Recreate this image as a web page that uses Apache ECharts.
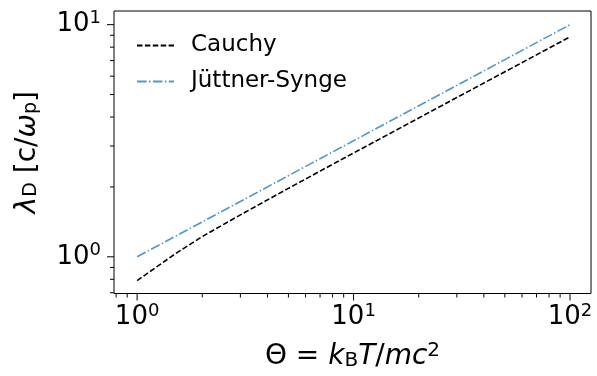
<!DOCTYPE html>
<html>
<head>
<meta charset="utf-8">
<script src="https://cdn.jsdelivr.net/npm/echarts@6/dist/echarts.min.js"></script>
<style>html,body{margin:0;padding:0;background:#fff}#c{width:597px;height:376px}</style>
</head>
<body>
<div id="c"></div>
<script>
var theta = [1, 1.5, 2, 3, 5, 7, 10, 20, 30, 50, 70, 100];
var cauchy = [0.79, 1.03, 1.223, 1.516, 1.972, 2.339, 2.799, 3.962, 4.853, 6.265, 7.413, 8.86];
var juttner = [1, 1.225, 1.414, 1.732, 2.236, 2.646, 3.162, 4.472, 5.477, 7.071, 8.367, 10];
var xMajor = [1, 10, 100];
var xMinor = [0.8, 0.9, 2, 3, 4, 5, 6, 7, 8, 9, 20, 30, 40, 50, 60, 70, 80, 90];
var yMajor = [1, 10];
var yMinor = [0.7, 0.8, 0.9, 2, 3, 4, 5, 6, 7, 8, 9];
var xMin = 0.782, xMax = 125, yMin = 0.695, yMax = 11.45;

var FONT = 'DejaVu Sans';
function pow10Label(v) {
  var l = Math.log10(v);
  if (Math.abs(l - Math.round(l)) > 1e-6) return '';
  return '{b|10}{s|' + Math.round(l) + '}';
}
var labelRich = {
  b: {fontSize: 26, fontFamily: FONT, color: '#000'},
  s: {fontSize: 18, fontFamily: FONT, color: '#000', padding: [0, 0, 12, 0]}
};

function tickSeries(vals, dim, len) {
  return {
    type: 'custom', silent: true, clip: false, z: 5,
    data: vals.map(function (v) { return [v]; }),
    renderItem: function (params, api) {
      var cs = params.coordSys;
      var v = api.value(0);
      var shape;
      if (dim === 'x') {
        var p = api.coord([v, yMin]);
        var yb = cs.y + cs.height;
        shape = {x1: p[0], y1: yb, x2: p[0], y2: yb + len};
      } else {
        var q = api.coord([xMin, v]);
        var xl = cs.x;
        shape = {x1: xl, y1: q[1], x2: xl - len, y2: q[1]};
      }
      return {type: 'line', shape: shape, style: {stroke: '#000', lineWidth: 1}};
    }
  };
}

var chart = echarts.init(document.getElementById('c'));
chart.setOption({
  animation: false,
  backgroundColor: '#fff',
  grid: {left: 114, right: 6, top: 11, bottom: 80, show: true, borderColor: '#000', borderWidth: 1, backgroundColor: 'transparent'},
  legend: {
    orient: 'vertical', left: 131, top: 29, itemWidth: 37, itemHeight: 14, itemGap: 13,
    itemStyle: {opacity: 0},
    textStyle: {fontSize: 23, fontFamily: FONT, color: '#000', padding: [0, 0, 0, 12]},
    data: ['Cauchy', 'Jüttner-Synge']
  },
  xAxis: {
    type: 'log', logBase: 10, min: xMin, max: xMax,
    axisLine: {show: false}, axisTick: {show: false}, splitLine: {show: false},
    axisLabel: {formatter: pow10Label, rich: labelRich, margin: 9},
    name: '{t|Θ = }{i|k}{sub|B}{i|T}{t|/}{i|mc}{sup|2}',
    nameLocation: 'middle', nameGap: 47,
    nameTextStyle: {
      rich: {
        t: {fontSize: 28, fontFamily: FONT, color: '#000'},
        i: {fontSize: 28, fontFamily: FONT, fontStyle: 'italic', color: '#000'},
        sub: {fontSize: 20, fontFamily: FONT, color: '#000', padding: [0, 0, -7, 0]},
        sup: {fontSize: 20, fontFamily: FONT, color: '#000', padding: [0, 0, 13, 0]}
      }
    }
  },
  yAxis: {
    type: 'log', logBase: 10, min: yMin, max: yMax,
    axisLine: {show: false}, axisTick: {show: false}, splitLine: {show: false},
    axisLabel: {formatter: pow10Label, rich: labelRich, margin: 13},
    name: '{i|λ}{sub|D}{t| [c/}{i|ω}{sub|p}{t|]}',
    nameLocation: 'middle', nameGap: 72,
    nameTextStyle: {
      rich: {
        t: {fontSize: 28, fontFamily: FONT, color: '#000'},
        i: {fontSize: 28, fontFamily: FONT, fontStyle: 'italic', color: '#000'},
        sub: {fontSize: 19, fontFamily: FONT, color: '#000', padding: [0, 0, -7, 0]}
      }
    }
  },
  series: [
    {
      name: 'Cauchy', type: 'line', showSymbol: false, symbol: 'none', smooth: false,
      data: theta.map(function (t, i) { return [t, cauchy[i]]; }),
      lineStyle: {color: '#000', width: 1.6, type: [5.5, 2.4]},
      itemStyle: {color: '#000'}, z: 3
    },
    {
      name: 'Jüttner-Synge', type: 'line', showSymbol: false, symbol: 'none',
      data: theta.map(function (t, i) { return [t, juttner[i]]; }),
      lineStyle: {color: '#4f97cc', width: 1.6, type: [9.6, 2.4, 1.5, 2.4]},
      itemStyle: {color: '#4f97cc'}, z: 3
    },
    tickSeries(xMajor, 'x', 7),
    tickSeries(xMinor, 'x', 4),
    tickSeries(yMajor, 'y', 7),
    tickSeries(yMinor, 'y', 4)
  ]
});
</script>
</body>
</html>
